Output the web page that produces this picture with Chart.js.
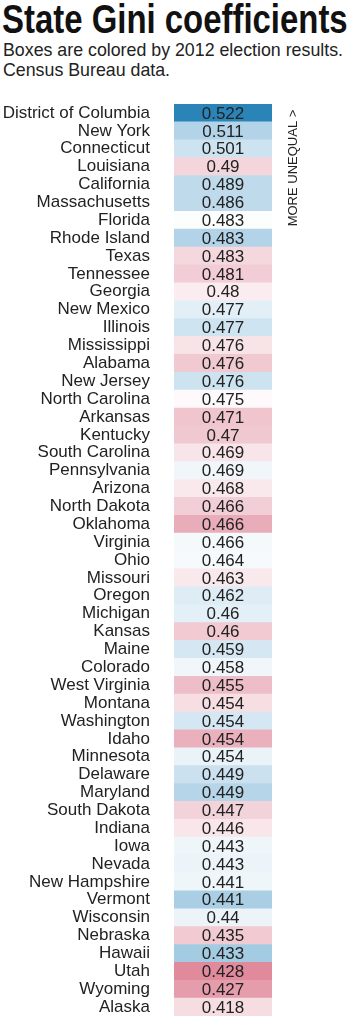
<!DOCTYPE html>
<html>
<head>
<meta charset="utf-8">
<title>State Gini coefficients</title>
<script src="https://cdn.jsdelivr.net/npm/chart.js@4/dist/chart.umd.min.js"></script>
<style>
    html, body { margin: 0; padding: 0; background: #fff; }
    body { width: 352px; height: 1024px; position: relative; overflow: hidden; color: #111; }
    #title {
        position: absolute; left: 2px; top: -1px; margin: 0;
        font: bold 41px/40px "Liberation Sans", Arial, sans-serif;
        white-space: nowrap; transform-origin: 0 0;
    }
    #subtitle {
        position: absolute; left: 3px; top: 40px; margin: 0;
        font: 17.8px/20px "Liberation Sans", Arial, sans-serif;
        color: #222; white-space: nowrap;
    }
    #wrap { position: absolute; left: 0; top: 96px; width: 352px; height: 928px; }
</style>
</head>
<body>
<h1 id="title">State Gini coefficients</h1>
<p id="subtitle">Boxes are colored by 2012 election results.<br>Census Bureau data.</p>
<div id="wrap"><canvas id="giniChart"></canvas></div>
<script>
// Urutan sesuai gambar, dari paling tidak merata
const states = [
    "District of Columbia", "New York", "Connecticut", "Louisiana", "California",
    "Massachusetts", "Florida", "Rhode Island", "Texas", "Tennessee",
    "Georgia", "New Mexico", "Illinois", "Mississippi", "Alabama",
    "New Jersey", "North Carolina", "Arkansas", "Kentucky", "South Carolina",
    "Pennsylvania", "Arizona", "North Dakota", "Oklahoma", "Virginia",
    "Ohio", "Missouri", "Oregon", "Michigan", "Kansas",
    "Maine", "Colorado", "West Virginia", "Montana", "Washington",
    "Idaho", "Minnesota", "Delaware", "Maryland", "South Dakota",
    "Indiana", "Iowa", "Nevada", "New Hampshire", "Vermont",
    "Wisconsin", "Nebraska", "Hawaii", "Utah", "Wyoming", "Alaska"
];

const gini = [
    0.522, 0.511, 0.501, 0.49, 0.489,
    0.486, 0.483, 0.483, 0.483, 0.481,
    0.48, 0.477, 0.477, 0.476, 0.476,
    0.476, 0.475, 0.471, 0.47, 0.469,
    0.469, 0.468, 0.466, 0.466, 0.466,
    0.464, 0.463, 0.462, 0.46, 0.46,
    0.459, 0.458, 0.455, 0.454, 0.454,
    0.454, 0.454, 0.449, 0.449, 0.447,
    0.446, 0.443, 0.443, 0.441, 0.441,
    0.44, 0.435, 0.433, 0.428, 0.427, 0.418
];

// Selisih suara 2012 (Obama - Romney, poin persen), dipakai untuk warna kotak
const margin2012 = [
    83.6, 28.2, 17.3, -17.2, 23.1,
    23.1, 0.9, 27.5, -15.8, -20.4,
    -7.8, 10.1, 16.9, -11.5, -22.2,
    17.8, -2.0, -23.7, -22.7, -10.5,
    5.4, -9.1, -19.6, -33.5, 3.9,
    3.0, -9.4, 12.1, 9.5, -21.7,
    15.3, 5.4, -26.8, -13.7, 14.9,
    -31.9, 7.7, 18.6, 26.1, -18.0,
    -10.2, 5.8, 6.7, 5.6, 35.6,
    6.9, -21.8, 42.7, -48.0, -40.8, -14.0
];

// Fungsi untuk interpolasi warna antar titik
function mix(a, b, t) {
    return a.map((v, i) => Math.round(v + (b[i] - v) * t));
}

function marginColor(m) {
    const stops = m >= 0
        ? [[0, [255, 255, 255]], [27, [179, 212, 232]], [43, [163, 203, 226]], [84, [42, 131, 184]]]
        : [[0, [255, 255, 255]], [48, [224, 138, 156]]];
    const v = Math.min(Math.abs(m), stops[stops.length - 1][0]);
    for (let i = 1; i < stops.length; i++) {
        if (v <= stops[i][0]) {
            const t = (v - stops[i - 1][0]) / (stops[i][0] - stops[i - 1][0]);
            const c = mix(stops[i - 1][1], stops[i][1], t);
            return `rgb(${c[0]},${c[1]},${c[2]})`;
        }
    }
}

const labelFont = '"Liberation Sans", Arial, sans-serif';

// Plugin untuk menulis nilai di dalam kotak dan teks vertikal
const cellText = {
    id: "cellText",
    afterDatasetsDraw(chart) {
        const ctx = chart.ctx;
        const meta = chart.getDatasetMeta(0);
        ctx.save();
        ctx.fillStyle = "#222";
        ctx.font = `17px ${labelFont}`;
        ctx.textAlign = "center";
        ctx.textBaseline = "middle";
        meta.data.forEach((bar, i) => {
            const cx = (bar.x + bar.base) / 2;
            ctx.fillText(String(gini[i]), cx, bar.y + 1);
        });

        const area = chart.chartArea;
        ctx.translate(area.right + 21, area.top + 64);
        ctx.rotate(-Math.PI / 2);
        ctx.font = `13px ${labelFont}`;
        ctx.fillText("MORE UNEQUAL >", 0, 0);
        ctx.restore();
    }
};

document.addEventListener("DOMContentLoaded", function () {
    // Judul dipadatkan supaya lebarnya sama dengan gambar asli
    const title = document.getElementById("title");
    title.style.transform = `scaleX(${346 / title.scrollWidth})`;

    const ctx = document.getElementById("giniChart").getContext("2d");

    new Chart(ctx, {
        type: "bar",
        data: {
            labels: states,
            datasets: [{
                label: "Gini",
                data: states.map(() => [0, 1]),
                backgroundColor: margin2012.map(marginColor),
                borderWidth: 0,
                barPercentage: 1,
                categoryPercentage: 1,
            }]
        },
        options: {
            indexAxis: "y",
            responsive: true,
            maintainAspectRatio: false,
            animation: false,
            layout: {
                autoPadding: false,
                padding: { top: 8, bottom: 8, right: 80, left: 0 }
            },
            plugins: {
                legend: { display: false },
                tooltip: { enabled: false },
            },
            scales: {
                x: { display: false, min: 0, max: 1 },
                y: {
                    grid: { display: false, drawTicks: false },
                    border: { display: false },
                    ticks: {
                        autoSkip: false,
                        padding: 24,
                        color: "#222",
                        font: { family: labelFont, size: 17 },
                    },
                    afterFit(scale) {
                        scale.width = 174;
                        scale.paddingTop = 0;
                        scale.paddingBottom = 0;
                    }
                }
            }
        },
        plugins: [cellText]
    });
});
</script>
</body>
</html>
